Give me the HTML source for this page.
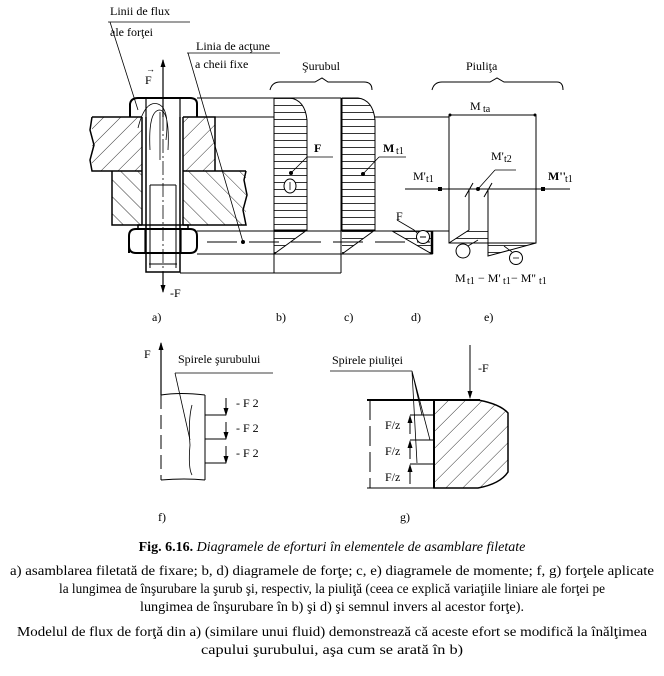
<!DOCTYPE html>
<html><head><meta charset="utf-8"><style>
html,body{margin:0;padding:0;background:#fff;}
svg{display:block;}
text{font-family:"Liberation Serif",serif;fill:#000;}
</style></head><body>
<svg width="664" height="676" viewBox="0 0 664 676" xmlns="http://www.w3.org/2000/svg">
<defs>
<pattern id="h1" width="12" height="12" patternUnits="userSpaceOnUse" patternTransform="rotate(45)"><line x1="0" y1="0" x2="0" y2="12" stroke="#000" stroke-width="0.8"/></pattern>
<pattern id="h2" width="12" height="12" patternUnits="userSpaceOnUse" patternTransform="rotate(-45)"><line x1="0" y1="0" x2="0" y2="12" stroke="#000" stroke-width="0.8"/></pattern>
<pattern id="hz" width="7" height="7" patternUnits="userSpaceOnUse"><line x1="0" y1="0.5" x2="7" y2="0.5" stroke="#000" stroke-width="0.8"/></pattern>
<marker id="ar" markerWidth="8" markerHeight="8" refX="7" refY="4" orient="auto" markerUnits="userSpaceOnUse"><path d="M0,1.5 L8,4 L0,6.5z" fill="#000"/></marker>
</defs>
<g stroke="#000" fill="none" stroke-width="1">
<!-- plates -->
<rect x="92" y="117" width="50" height="54" fill="url(#h1)" stroke="none"/>
<rect x="183" y="117" width="32" height="54" fill="url(#h1)" stroke="none"/>
<rect x="112" y="171" width="30" height="54" fill="url(#h2)" stroke="none"/>
<rect x="183" y="171" width="63" height="54" fill="url(#h2)" stroke="none"/>
<path d="M92,117 H142 M183,117 H215 V171 M92,117 L90,130 L94,145 L90,160 L92,171 H142 M183,171 H246" stroke-width="1.5"/>
<path d="M112,171 V225 H142 M183,225 H246 L243,210 L247,195 L244,180 L246,171" stroke-width="1.5"/>
<path d="M142,117 V225 M183,117 V225" stroke-width="1.5"/>
<!-- bolt head -->
<path d="M130,117 V104 Q131,98 138,98 H190 Q197,98 197,104 V117" stroke-width="2"/>
<path d="M146,98 V117 M180,98 V117" stroke-width="1.2"/>
<!-- shank -->
<path d="M146,117 V272 H180 V117" stroke-width="1.5"/>
<path d="M150,185 H176 M150,185 V268 M176,185 V268 M149,264 H177"/>
<!-- washer & nut -->
<rect x="138" y="225" width="50" height="4" stroke-width="1.5"/>
<path d="M129,253 V236 Q129,229 136,229 H190 Q197,229 197,236 V246 Q197,253 190,253 H136 Q129,253 129,246" stroke-width="2"/>
<path d="M145,229 V253 M181,229 V253" stroke-width="1.2"/>
<!-- flux lines -->
<path d="M138,128 Q145,100 158,104 Q170,108 166,140 M150,150 Q148,110 160,110 Q170,112 168,150 M160,160 V112" stroke-width="0.8"/>
<!-- center axis -->
<path d="M163,117 V60" marker-end="url(#ar)" stroke-width="1.2"/>
<path d="M163,117 V272" stroke-dasharray="14,3,2,3" stroke-width="0.8"/>
<path d="M163,272 V292" marker-end="url(#ar)" stroke-width="1.2"/>
<!-- leaders -->
<path d="M108,22 H190 M110,22 L138,110" stroke-width="0.8"/>
<path d="M187,53 H280 M188,53 L243,242" stroke-width="0.8"/>
<circle cx="243" cy="242" r="1.5" fill="#000"/>
<!-- long horizontal lines -->
<path d="M197,98 H274 M215,117 H274 M375,117 H449 M197,231 H449 M197,254 H432 M180,273 H274"/>
<path d="M207,242 H430" stroke-dasharray="30,12"/>
<!-- b) -->
<path d="M274,98 V230 H307 V120 Q305,100 290,98 Z" fill="url(#hz)"/>
<path d="M274,230 L274,254 L307,230 Z" fill="url(#hz)" stroke="none"/>
<path d="M274,98 V273 M274,254 L307,230 M341,98 V273 M274,273 H341 M274,98 H341" stroke-width="1"/>
<!-- c) -->
<path d="M342,98 V230 H375 V120 Q373,100 358,98 Z" fill="url(#hz)"/>
<path d="M342,230 L342,254 L375,230 Z" fill="url(#hz)" stroke="none"/>
<path d="M342,254 L375,230"/>
<!-- b,c labels -->
<path d="M307,157 H333 M307,157 L291,173" stroke-width="0.8"/><circle cx="291" cy="173" r="1.5" fill="#000"/>
<ellipse cx="290" cy="186" rx="6" ry="7" fill="#fff"/><path d="M290,182 V190" stroke-width="0.8"/>
<path d="M379,157 H406 M379,157 L363,174" stroke-width="0.8"/><circle cx="363" cy="174" r="1.5" fill="#000"/>
<!-- d) -->
<path d="M392,231 L432,254 V231 Z" fill="url(#hz)"/>
<path d="M432,231 V254" stroke-width="2.5"/>
<path d="M397,220 L414,230 L418,234" stroke-width="0.8"/>
<circle cx="423" cy="237" r="6.5" fill="#fff"/><path d="M420,237 H426"/>
<!-- e) -->
<rect x="449" y="115" width="87" height="128"/>
<circle cx="450" cy="115" r="1.5" fill="#000" stroke="none"/><circle cx="535" cy="115" r="1.5" fill="#000" stroke="none"/>
<path d="M405,189 H570"/>
<rect x="438" y="187" width="4" height="4" fill="#000" stroke="none"/><rect x="541" y="187" width="4" height="4" fill="#000" stroke="none"/>
<path d="M469,189 V230 L449,243 M488,189 V256 M465,197 L473,183 M484,197 L492,183"/>
<path d="M449,243 L469,230 H488 V243 Z" fill="url(#hz)" stroke="none"/>
<path d="M488,243 H536 L488,256 Z" fill="url(#hz)"/>
<path d="M495,170 H516 M495,170 L478,189" stroke-width="0.8"/><circle cx="478" cy="189" r="1.5" fill="#000"/>
<circle cx="463" cy="251" r="7" fill="#fff"/><path d="M468,246 L478,240" stroke-width="0.8"/>
<circle cx="516" cy="258" r="6.5" fill="#fff"/><path d="M513,258 H519 M512,252 L504,246" stroke-width="0.8"/>
<!-- braces -->
<path d="M270,90 Q272,82 280,82 H315 L322,78 L328,82 H364 Q372,82 372,90"/>
<path d="M432,90 Q434,82 442,82 H490 L497,78 L504,82 H557 Q563,82 563,90"/>
<!-- f) -->
<path d="M161,395 V343" marker-end="url(#ar)" stroke-width="1.2"/>
<path d="M161,395 V480" stroke-dasharray="14,6"/>
<path d="M161,395 Q180,392 205,395 M161,480 Q185,478 205,480 M205,395 V480"/>
<path d="M192,405 Q188,420 190,445 Q188,468 192,475" stroke-width="0.8"/>
<path d="M175,373 H273 M175,373 L190,440" stroke-width="0.8"/>
<path d="M205,415 H226 M205,439 H226 M205,463 H226"/>
<path d="M226,398 V415" marker-end="url(#ar)"/>
<path d="M226,422 V439" marker-end="url(#ar)"/>
<path d="M226,446 V463" marker-end="url(#ar)"/>
<!-- g) -->
<path d="M434,400 H478 Q500,404 508,413 V472 Q500,484 478,488 H434 Z" fill="url(#h1)" stroke-width="1.5"/>
<path d="M367,400 H480" stroke-width="2"/><path d="M367,488 H434"/>
<path d="M434,400 V488" stroke-width="2"/>
<path d="M370,400 V488" stroke-dasharray="20,6"/>
<path d="M470,345 V398" marker-end="url(#ar)"/>
<path d="M330,371 H412 M412,371 L422,415 M412,371 L430,440 M412,371 L417,463" stroke-width="0.8"/>
<path d="M410,415 H434 M410,440 H434 M410,464 H434"/>
<path d="M410,434 V416" marker-end="url(#ar)"/>
<path d="M410,459 V441" marker-end="url(#ar)"/>
<path d="M410,484 V465" marker-end="url(#ar)"/>
</g>
<g font-size="12">
<text x="110" y="15">Linii de flux</text>
<text x="110" y="36">ale forţei</text>
<text x="196" y="50">Linia de acţune</text>
<text x="195" y="68">a cheii fixe</text>
<text x="302" y="70">Şurubul</text>
<text x="466" y="70">Piuliţa</text>
<text x="145" y="84">F</text><text x="146" y="72" font-size="9">→</text>
<text x="170" y="297">-F</text>
<text x="314" y="152" font-weight="bold">F</text>
<text x="383" y="152" font-weight="bold">M</text><text x="396" y="154" font-size="10">t1</text>
<text x="470" y="110">M</text><text x="483" y="112" font-size="10">ta</text>
<text x="491" y="160">M'</text><text x="504" y="162" font-size="10">t2</text>
<text x="413" y="180">M'</text><text x="426" y="182" font-size="10">t1</text>
<text x="548" y="180" font-weight="bold">M''</text><text x="565" y="182" font-size="10">t1</text>
<text x="396" y="220">F</text>
<text x="455" y="282">M</text><text x="467" y="284" font-size="10">t1</text><text x="478" y="282">− M'</text><text x="503" y="284" font-size="10">t1</text><text x="511" y="282">− M''</text><text x="539" y="284" font-size="10">t1</text>
<text x="152" y="321">a)</text><text x="276" y="321">b)</text><text x="344" y="321">c)</text><text x="411" y="321">d)</text><text x="484" y="321">e)</text>
<text x="144" y="358">F</text>
<text x="178" y="363">Spirele şurubului</text>
<text x="236" y="407">- F 2</text><text x="236" y="432">- F 2</text><text x="236" y="457">- F 2</text>
<text x="332" y="364">Spirele piuliţei</text>
<text x="478" y="372">-F</text>
<text x="385" y="429">F/z</text><text x="385" y="455">F/z</text><text x="385" y="481">F/z</text>
<text x="158" y="521">f)</text><text x="400" y="521">g)</text>
</g>
<g font-size="14" text-anchor="middle">
<text x="332" y="551"><tspan font-weight="bold">Fig. 6.16.</tspan> <tspan font-style="italic">Diagramele de eforturi în elementele de asamblare filetate</tspan></text>
<text x="332" y="575" textLength="644" lengthAdjust="spacingAndGlyphs">a) asamblarea filetată de fixare; b, d) diagramele de forţe; c, e) diagramele de momente; f, g) forţele aplicate</text>
<text x="332" y="593" textLength="546" lengthAdjust="spacingAndGlyphs">la lungimea de înşurubare la şurub şi, respectiv, la piuliţă (ceea ce explică variaţiile liniare ale forţei pe</text>
<text x="332" y="611" textLength="384" lengthAdjust="spacingAndGlyphs">lungimea de înşurubare în b) şi d) şi semnul invers al acestor forţe).</text>
<text x="332" y="636" textLength="630" lengthAdjust="spacingAndGlyphs">Modelul de flux de forţă din a) (similare unui fluid) demonstrează că aceste efort se modifică la înălţimea</text>
<text x="332" y="654" textLength="262" lengthAdjust="spacingAndGlyphs">capului şurubului, aşa cum se arată în b)</text>
</g>
</svg>
</body></html>
